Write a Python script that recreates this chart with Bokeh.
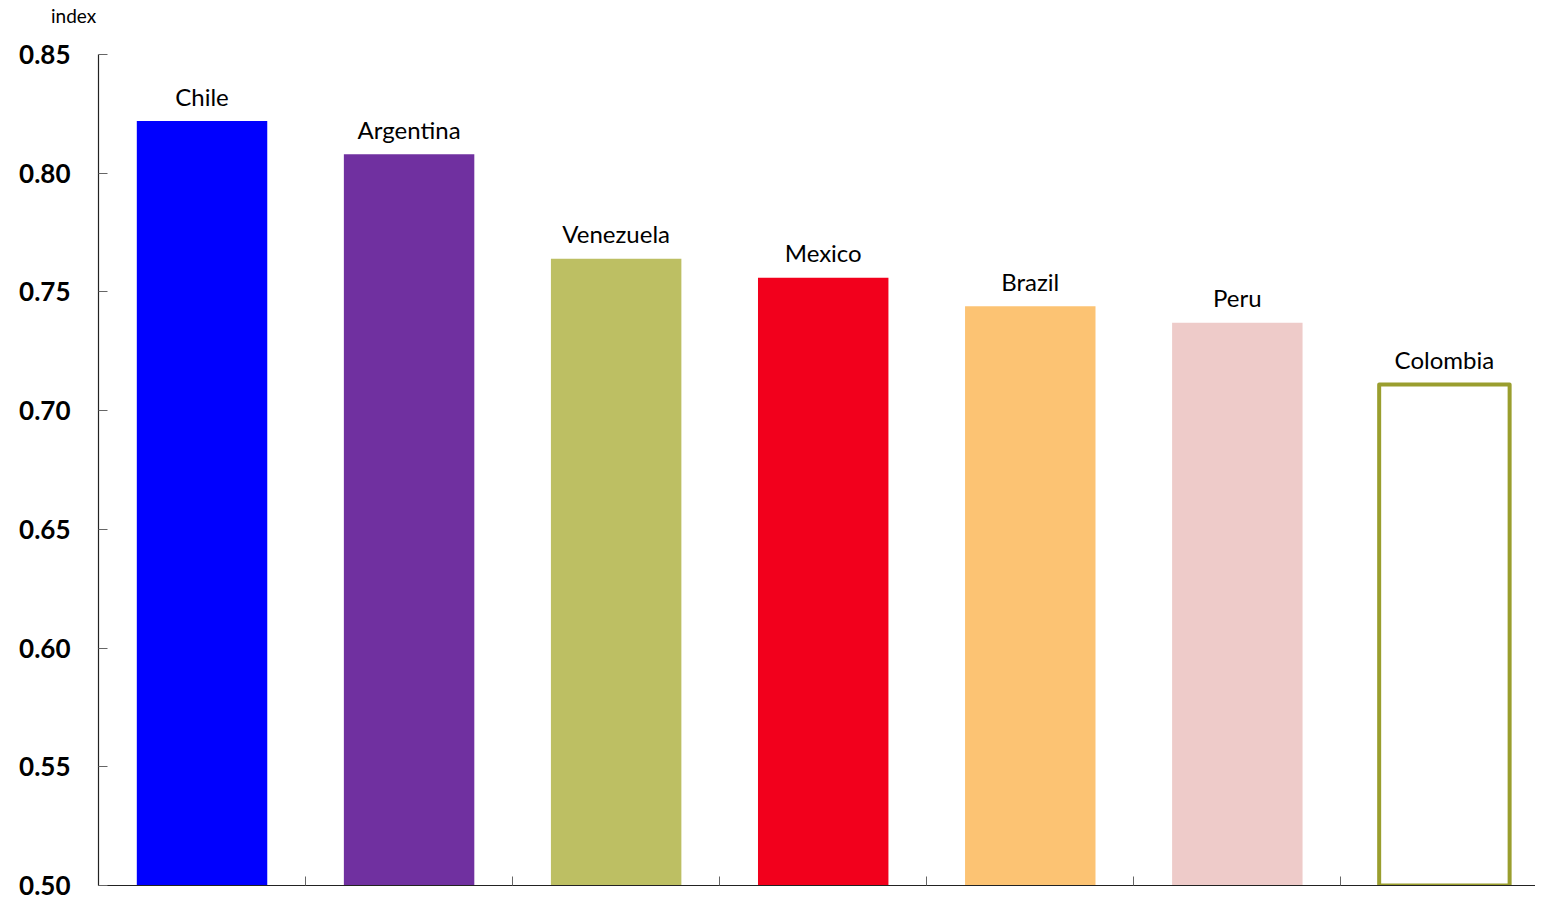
from bokeh.plotting import figure
from bokeh.models import ColumnDataSource, Range1d, FixedTicker, NumeralTickFormatter, Div
from bokeh.layouts import column
from bokeh.transform import dodge
from bokeh.core.properties import value
from bokeh.embed import file_html
from bokeh.resources import INLINE

countries = ["Chile", "Argentina", "Venezuela", "Mexico", "Brazil", "Peru", "Colombia"]
index_values = [0.822, 0.808, 0.764, 0.756, 0.744, 0.737, 0.711]
fill_colors = ["#0000FF", "#7030A0", "#BDBF63", "#F2001C", "#FCC373", "#EECBC9", "#FFFFFF"]
line_colors = ["#0000FF", "#7030A0", "#BDBF63", "#F2001C", "#FCC373", "#EECBC9", "#9A9E2E"]
line_widths = [0, 0, 0, 0, 0, 0, 4]
y_ticks = [0.50, 0.55, 0.60, 0.65, 0.70, 0.75, 0.80, 0.85]
unit_label = "index"

FONT = "Lato"

xs = [i + 0.5 for i in range(len(countries))]
src = ColumnDataSource(dict(x=xs, top=index_values, name=countries,
                            fill=fill_colors, line=line_colors, lw=line_widths))

header = Div(text=unit_label, width=1535, height=30, margin=(0, 0, 0, 0),
             styles={"font-family": "Lato", "font-size": "19px", "color": "#000000",
                     "padding-left": "51px", "padding-top": "4px", "line-height": "24px"})

p = figure(width=1535, height=870, output_backend="svg", toolbar_location=None,
           x_range=Range1d(0, 6.94), y_range=Range1d(0.50, 0.85),
           min_border_left=98, min_border_top=24, min_border_right=0, min_border_bottom=15,
           margin=(0, 0, 0, 0))

p.vbar(x="x", top="top", bottom=0.50, width=0.63, source=src,
       fill_color="fill", line_color="line", line_width="lw", line_join="round")

p.text(x="x", y=dodge("top", 0.0105), text="name", source=src, text_align="center",
       text_baseline="alphabetic",
       text_font=value(FONT), text_font_size="24px", text_color="#000000")

p.xgrid.visible = False
p.ygrid.visible = False
p.outline_line_color = None

ya = p.yaxis[0]
ya.ticker = FixedTicker(ticks=y_ticks)
ya.formatter = NumeralTickFormatter(format="0.00")
ya.major_tick_in = 9
ya.major_tick_out = 0
ya.minor_tick_line_color = None
ya.major_label_standoff = 28
ya.major_label_text_font = FONT
ya.major_label_text_font_style = "bold"
ya.major_label_text_font_size = "26px"
ya.major_label_text_color = "#000000"
ya.axis_line_color = "#222222"
ya.major_tick_line_color = "#666666"
ya.axis_line_width = 1.2

xa = p.xaxis[0]
xa.ticker = FixedTicker(ticks=[1, 2, 3, 4, 5, 6])
xa.major_tick_in = 9
xa.major_tick_out = 0
xa.minor_tick_line_color = None
xa.major_label_text_font_size = "0px"
xa.major_label_text_alpha = 0
xa.axis_line_color = "#222222"
xa.major_tick_line_color = "#666666"
xa.axis_line_width = 1.2

layout = column(header, p, spacing=0, margin=(0, 0, 0, 0))

open("out.html", "w").write(file_html(layout, INLINE))
